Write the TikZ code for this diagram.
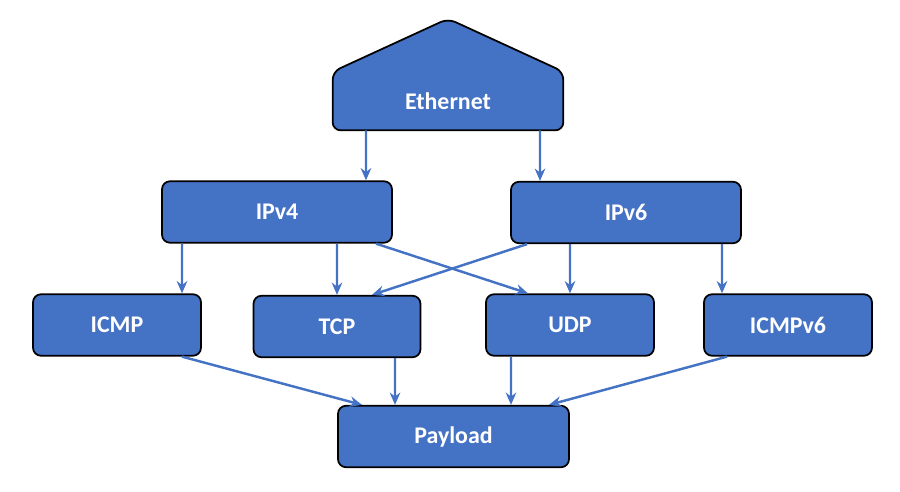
\documentclass[tikz,border=0pt]{standalone}
\usepackage{fontspec}
\setmainfont{Carlito}
\usetikzlibrary{arrows.meta,backgrounds}
\definecolor{boxblue}{HTML}{4472C4}
\begin{document}
\begin{tikzpicture}[x=0.02cm,y=-0.02cm,
		box/.style={draw=black,line width=1pt,fill=boxblue,rounded corners=0.16cm,
			text=white,font=\fontsize{13.6}{16}\selectfont\bfseries,minimum height=1.23cm},
		roof/.style={text=white,font=\fontsize{13.6}{16}\selectfont\bfseries,
			minimum width=4.6cm,minimum height=1.16cm},
		arr/.style={draw=boxblue,line width=1.4pt,-{Stealth[length=7pt,width=6pt]}}]
				\useasboundingbox (0,0) rectangle (900,491);
				
				% top
				\node[roof] (eth) at (448,101) {Ethernet};
				\begin{scope}[on background layer]
					\draw[draw=black,line width=1pt,fill=boxblue,rounded corners=0.16cm]
					(eth.south west) -- (eth.north west) -- ([yshift=1.06cm]eth.north)
					-- (eth.north east) -- (eth.south east) -- cycle;
				\end{scope}
				
				% network layer
				\node[box,minimum width=4.6cm] (ipv4) at (277,212) {IPv4};
				\node[box,minimum width=4.6cm] (ipv6) at (626,212.5) {IPv6};
				
				% transport layer
				\node[box,minimum width=3.36cm] (icmp) at (117,325) {ICMP};
				\node[box,minimum width=3.34cm] (tcp) at (337,326.5) {TCP};
				\node[box,minimum width=3.36cm] (udp) at (570,325) {UDP};
				\node[box,minimum width=3.36cm] (icmpv6) at (788,325) {ICMPv6};
				
				\node[box,minimum width=4.62cm] (payload) at (453.5,436.5) {Payload};
				
				\draw[arr] ([xshift=-1.64cm]eth.south) -- ([xshift=1.78cm]ipv4.north);
				\draw[arr] ([xshift=1.84cm]eth.south) -- ([xshift=-1.72cm]ipv6.north);
				
				\draw[arr] ([xshift=-1.9cm]ipv4.south) -- ([xshift=1.3cm]icmp.north);
				\draw[arr] ([xshift=1.2cm]ipv4.south) -- (tcp.north);
				\draw[arr] ([xshift=1.98cm]ipv4.south) -- ([xshift=-0.84cm]udp.north);
				\draw[arr] ([xshift=-1.98cm]ipv6.south) -- ([xshift=0.7cm]tcp.north);
				\draw[arr] ([xshift=-1.12cm]ipv6.south) -- (udp.north);
				\draw[arr] ([xshift=1.92cm]ipv6.south) -- ([xshift=-1.32cm]icmpv6.north);
				
				\draw[arr] ([xshift=1.3cm]icmp.south) -- ([xshift=-1.83cm]payload.north);
				\draw[arr] ([xshift=1.16cm]tcp.south) -- ([xshift=-1.17cm]payload.north);
				\draw[arr] ([xshift=-1.18cm]udp.south) -- ([xshift=1.15cm]payload.north);
				\draw[arr] ([xshift=-1.22cm]icmpv6.south) -- ([xshift=1.91cm]payload.north);
				
			\end{tikzpicture}
\end{document}
